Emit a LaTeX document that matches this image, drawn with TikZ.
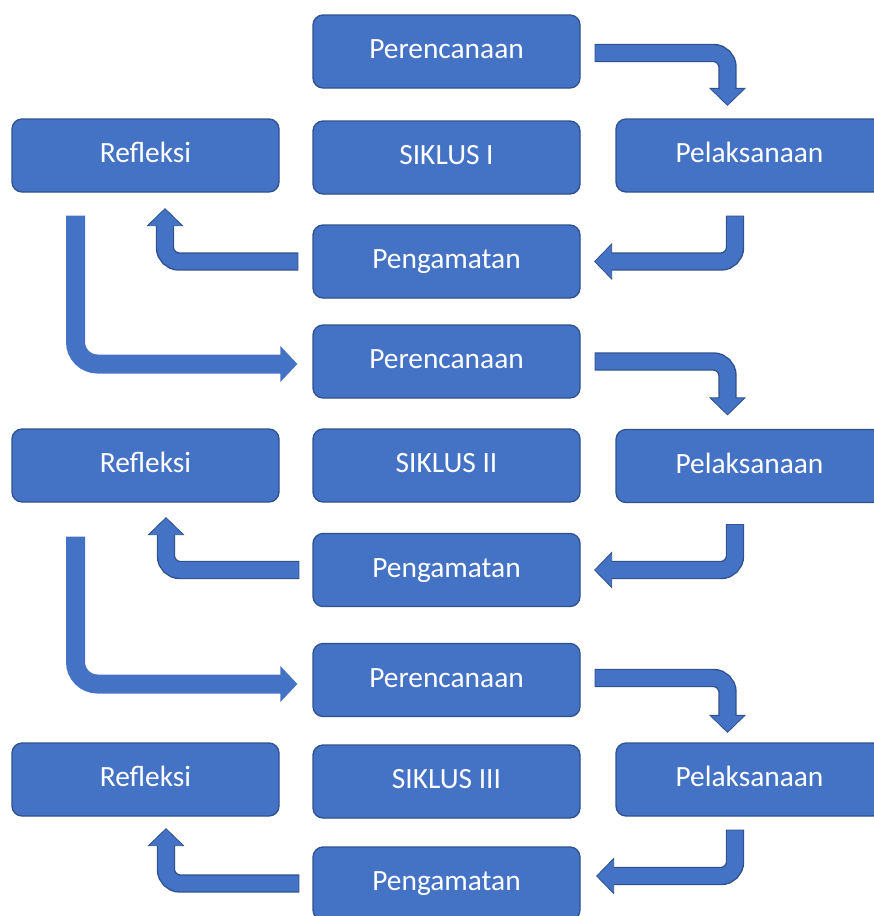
\documentclass[tikz,border=0pt]{standalone}
\usepackage{fontspec}
\setmainfont{Carlito}
\usetikzlibrary{calc}
\definecolor{boxfill}{HTML}{4472C4}
\definecolor{boxline}{HTML}{2F528F}
\tikzset{
  box/.style={draw=boxline, fill=boxfill, line width=1.3pt, rounded corners=10pt,
    minimum width=267pt, minimum height=73pt, inner sep=0pt, text=white,
    font=\fontsize{29.4}{34}\selectfont, text height=18pt, text depth=4pt},
  arrowedge/.style={draw=boxline, line width=18.4pt, rounded corners=14pt},
  arrowbody/.style={draw=boxfill, line width=15.6pt, rounded corners=14pt, shorten <=0.7pt},
  arrowtip/.style={fill=boxfill, draw=boxline, line width=0.8pt, line join=miter},
  bigbody/.style={draw=boxfill, line width=19pt, rounded corners=22pt},
  bigtip/.style={fill=boxfill},
}
% small outlined bent arrow: start, corner, tip
\newcommand\bentarrow[3]{%
  \coordinate (ba-s) at #1;
  \coordinate (ba-c) at #2;
  \coordinate (ba-t) at #3;
  \coordinate (ba-b) at ($(ba-t)!17pt!(ba-c)$);
  \coordinate (ba-i) at ($(ba-t)!15pt!(ba-c)$);
  \draw[arrowedge] (ba-s) -- (ba-c) -- (ba-b);
  \filldraw[arrowtip] (ba-t) -- ($(ba-b)!17.5pt!90:(ba-t)$) -- ($(ba-b)!17.5pt!-90:(ba-t)$) -- cycle;
  \draw[arrowbody] (ba-s) -- (ba-c) -- (ba-i);
}
% large flat bent arrow: start, corner, tip
\newcommand\bigbentarrow[3]{%
  \coordinate (bb-s) at #1;
  \coordinate (bb-c) at #2;
  \coordinate (bb-t) at #3;
  \coordinate (bb-b) at ($(bb-t)!17pt!(bb-c)$);
  \coordinate (bb-i) at ($(bb-t)!15pt!(bb-c)$);
  \fill[bigtip] (bb-t) -- ($(bb-b)!18pt!90:(bb-t)$) -- ($(bb-b)!18pt!-90:(bb-t)$) -- cycle;
  \draw[bigbody] (bb-s) -- (bb-c) -- (bb-i);
}
\begin{document}
\begin{tikzpicture}[x=1pt, y=-1pt]
\useasboundingbox (0,0) rectangle (874,916);
\fill[white] (0,0) rectangle (874,916);
\clip (0,0) rectangle (874,916);

% cycle I
\node[box] (p1) at (446.5,51.5) {Perencanaan};
\node[box] (r1) at (145.5,155.5) {Refleksi};
\node[box] (s1) at (446.5,157.5) {SIKLUS I};
\node[box] (l1) at (749.5,155.5) {Pelaksanaan};
\node[box] (g1) at (446.5,261.5) {Pengamatan};
% cycle II
\node[box] (p2) at (446.5,361.5) {Perencanaan};
\node[box] (r2) at (145.5,465.5) {Refleksi};
\node[box] (s2) at (446.5,465.5) {SIKLUS II};
\node[box] (l2) at (749.5,466) {Pelaksanaan};
\node[box] (g2) at (446.5,570) {Pengamatan};
% cycle III
\node[box] (p3) at (446.5,680) {Perencanaan};
\node[box] (r3) at (145.5,779.5) {Refleksi};
\node[box] (s3) at (446.5,781.5) {SIKLUS III};
\node[box] (l3) at (749.5,779.5) {Pelaksanaan};
\node[box] (g3) at (446.5,883.5) {Pengamatan};

% cycle I arrows
\coordinate (a1s) at ([xshift=14pt,yshift=-1.5pt]p1.east);
\coordinate (a1t) at ([xshift=-22pt,yshift=13pt]l1.north);
\bentarrow{(a1s)}{(a1t |- a1s)}{(a1t)}
\coordinate (a2s) at ([xshift=-14.5pt,yshift=-23pt]l1.south);
\coordinate (a2t) at ([xshift=14pt]g1.east);
\bentarrow{(a2s)}{(a2s |- a2t)}{(a2t)}
\coordinate (a3s) at ([xshift=-14pt]g1.west);
\coordinate (a3t) at ([xshift=19.5pt,yshift=-16pt]r1.south);
\bentarrow{(a3s)}{(a3t |- a3s)}{(a3t)}
\coordinate (b1s) at ([xshift=-70pt,yshift=-23pt]r1.south);
\coordinate (b1t) at ([xshift=-15pt,yshift=-2.5pt]p2.west);
\bigbentarrow{(b1s)}{(b1s |- b1t)}{(b1t)}

% cycle II arrows
\coordinate (a4s) at ([xshift=14pt]p2.east);
\coordinate (a4t) at ([xshift=-22pt,yshift=14pt]l2.north);
\bentarrow{(a4s)}{(a4t |- a4s)}{(a4t)}
\coordinate (a5s) at ([xshift=-14.5pt,yshift=-21pt]l2.south);
\coordinate (a5t) at ([xshift=14pt]g2.east);
\bentarrow{(a5s)}{(a5s |- a5t)}{(a5t)}
\coordinate (a6s) at ([xshift=-13pt]g2.west);
\coordinate (a6t) at ([xshift=20.5pt,yshift=-15pt]r2.south);
\bentarrow{(a6s)}{(a6t |- a6s)}{(a6t)}
\coordinate (b2s) at ([xshift=-70pt,yshift=-34pt]r2.south);
\coordinate (b2t) at ([xshift=-15pt,yshift=-4pt]p3.west);
\bigbentarrow{(b2s)}{(b2s |- b2t)}{(b2t)}

% cycle III arrows
\coordinate (a7s) at ([xshift=14pt,yshift=2pt]p3.east);
\coordinate (a7t) at ([xshift=-22pt,yshift=10pt]l3.north);
\bentarrow{(a7s)}{(a7t |- a7s)}{(a7t)}
\coordinate (a8s) at ([xshift=-14.5pt,yshift=-13pt]l3.south);
\coordinate (a8t) at ([xshift=16pt,yshift=7.5pt]g3.east);
\bentarrow{(a8s)}{(a8s |- a8t)}{(a8t)}
\coordinate (a9s) at ([xshift=-13pt]g3.west);
\coordinate (a9t) at ([xshift=20.5pt,yshift=-12pt]r3.south);
\bentarrow{(a9s)}{(a9t |- a9s)}{(a9t)}
\end{tikzpicture}
\end{document}
